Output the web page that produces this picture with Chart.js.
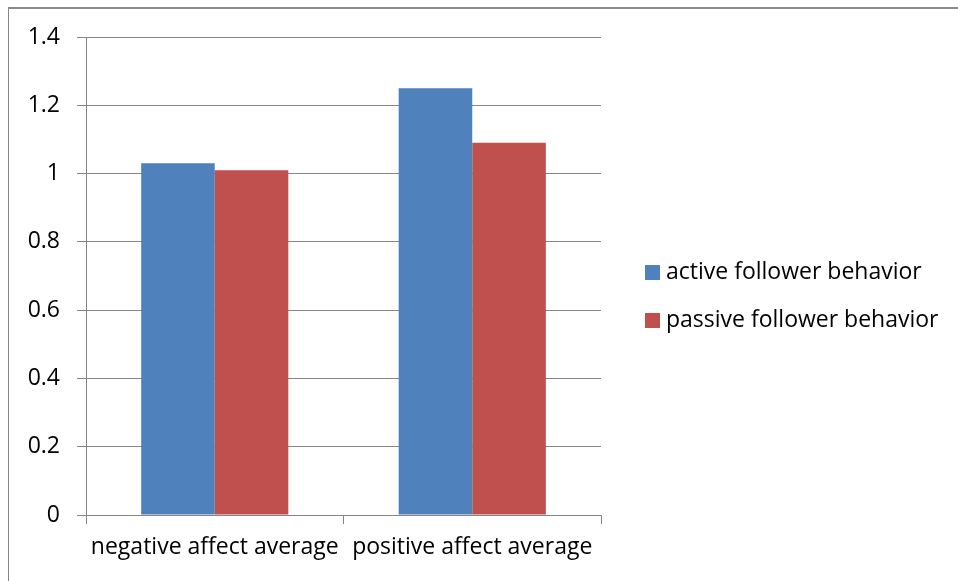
<!DOCTYPE html>
<html>
<head>
<meta charset="utf-8">
<script src="https://cdn.jsdelivr.net/npm/chart.js@4.4.1/dist/chart.umd.min.js"></script>
<style>
  html, body { margin: 0; padding: 0; background: #fff; overflow: hidden; }
  #wrap { position: relative; width: 958px; height: 581px; }
  #frame {
    position: absolute; left: 8px; top: 7px; width: 1000px; height: 700px;
    border-left: 1px solid #868686; border-top: 2px solid #8a8a8a;
    pointer-events: none;
  }
</style>
</head>
<body>
<div id="wrap">
  <canvas id="barChart" width="958" height="581"></canvas>
  <div id="frame"></div>
</div>
<script>
var categories = ["negative affect average", "positive affect average"];
var activeValues = [1.03, 1.25];
var passiveValues = [1.01, 1.09];
var seriesNames = ["active follower behavior", "passive follower behavior"];
var seriesColors = ["#4f81bd", "#c0504d"];
var yMin = 0, yMax = 1.4, yStep = 0.2;

var fontFamily = "'Open Sans', sans-serif";
var fontSize = 23;
var gridColor = "#868686";

// legend drawn to the right of the plot, the built-in one gets squeezed too narrow
var sideLegend = {
  id: "sideLegend",
  afterDraw: function (chart) {
    var c = chart.ctx;
    var area = chart.chartArea;
    var x = area.right + 44;
    var midY = (area.top + area.bottom) / 2 + 20;
    var rowGap = 48;
    var items = chart.data.datasets;
    c.save();
    c.font = fontSize + "px " + fontFamily;
    c.textBaseline = "middle";
    c.textAlign = "left";
    items.forEach(function (ds, i) {
      var y = midY + (i - (items.length - 1) / 2) * rowGap;
      c.fillStyle = ds.backgroundColor;
      c.fillRect(x, Math.round(y - 7.5), 15, 15);
      c.fillStyle = "#000";
      c.fillText(ds.label, x + 21, y);
    });
    c.restore();
  },
};

var ctx = document.getElementById("barChart").getContext("2d");
var myChart = new Chart(ctx, {
  type: "bar",
  data: {
    labels: categories,
    datasets: [
      {
        label: seriesNames[0],
        data: activeValues,
        backgroundColor: seriesColors[0],
        categoryPercentage: 2 / 3.5,
        barPercentage: 1,
      },
      {
        label: seriesNames[1],
        data: passiveValues,
        backgroundColor: seriesColors[1],
        categoryPercentage: 2 / 3.5,
        barPercentage: 1,
      },
    ],
  },
  options: {
    responsive: false,
    animation: false,
    layout: { padding: { top: 37, left: 0, right: 357, bottom: 0 } },
    plugins: {
      tooltip: { enabled: false },
      legend: { display: false },
    },
    scales: {
      x: {
        grid: {
          offset: true,
          drawOnChartArea: false,
          drawTicks: true,
          tickLength: 9,
          color: gridColor,
          lineWidth: 1,
        },
        border: { display: true, color: gridColor, width: 1 },
        ticks: {
          color: "#000",
          padding: 10,
          maxRotation: 0,
          autoSkip: false,
          font: { family: fontFamily, size: fontSize },
        },
        afterFit: function (s) { s.height = 66; },
      },
      y: {
        min: yMin,
        max: yMax,
        grid: {
          color: gridColor,
          lineWidth: 1,
          drawTicks: true,
          tickLength: 9,
        },
        border: { display: true, color: gridColor, width: 1 },
        ticks: {
          stepSize: yStep,
          color: "#000",
          padding: 17,
          font: { family: fontFamily, size: fontSize },
          callback: function (v) { return String(+v.toFixed(1)); },
        },
        afterFit: function (s) { s.width = 86; },
      },
    },
  },
  plugins: [sideLegend],
});
</script>
</body>
</html>
